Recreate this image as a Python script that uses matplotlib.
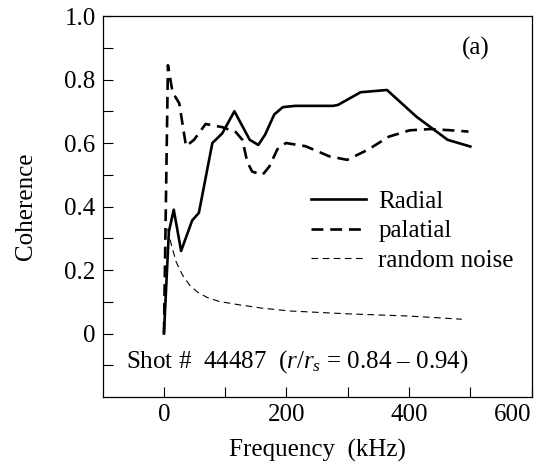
import matplotlib
matplotlib.use("Agg")
import matplotlib.pyplot as plt

plt.rcParams["font.family"] = ["Liberation Serif", "DejaVu Serif"]
plt.rcParams["mathtext.fontset"] = "custom"
plt.rcParams["mathtext.rm"] = "Liberation Serif"
plt.rcParams["mathtext.it"] = "Liberation Serif:italic"

# radial coherence (solid)
radial_f = [0, 8, 16, 28, 46, 57, 79, 95, 115, 140, 154, 165, 180, 194, 214, 276, 284, 321, 364, 412, 463, 500]
radial_c = [0.0, 0.32, 0.39, 0.26, 0.356, 0.38, 0.60, 0.63, 0.70, 0.61, 0.594, 0.626, 0.69, 0.713, 0.717, 0.717, 0.72, 0.76, 0.767, 0.683, 0.61, 0.589]

# palatial coherence (thick dashed)
pal_f = [0, 6.5, 14, 25, 36, 49, 68, 95, 117, 128, 136, 144, 161, 172, 185, 199, 231, 270, 299, 333, 367, 401, 435, 469, 497]
pal_c = [0.0, 0.845, 0.76, 0.725, 0.59, 0.61, 0.66, 0.65, 0.635, 0.61, 0.54, 0.51, 0.50, 0.526, 0.58, 0.60, 0.59, 0.558, 0.547, 0.579, 0.62, 0.64, 0.644, 0.64, 0.636]

# random noise level (thin dashed)
noise_f = [6, 12, 20, 30, 42, 55, 70, 90, 124, 160, 205, 300, 400, 486]
noise_c = [0.33, 0.28, 0.225, 0.185, 0.152, 0.13, 0.114, 0.101, 0.09, 0.08, 0.071, 0.062, 0.055, 0.045]

xticks = [0, 200, 400, 600]
yticks = [0, 0.2, 0.4, 0.6, 0.8, 1.0]
ytick_labels = ["0", "0.2", "0.4", "0.6", "0.8", "1.0"]

fs = 18

fig = plt.figure(figsize=(5.45, 4.70), dpi=100)
ax = fig.add_axes([0.1884, 0.1553, 0.787, 0.8106])

ax.plot(radial_f, radial_c, "k-", lw=1.9, label="Radial")
ax.plot(pal_f, pal_c, "k--", lw=1.9, dashes=(4.5, 2.6), label="palatial")
ax.plot(noise_f, noise_c, "k--", lw=0.8, dashes=(6, 4), label="random noise")

ax.set_xlim(-100, 600)
ax.set_ylim(-0.2, 1.0)
ax.set_xticks(xticks)
ax.set_xticks([100, 300, 500], minor=True)
ax.set_yticks(yticks)
ax.set_yticklabels(ytick_labels)
ax.set_yticks([-0.1, 0.1, 0.3, 0.5, 0.7, 0.9], minor=True)
ax.tick_params(which="both", direction="in", length=7.5, width=0.8, labelsize=fs, pad=5)
ax.get_xticklabels()[-1].set_ha("right")
for s in ax.spines.values():
    s.set_linewidth(0.9)

ax.set_xlabel("Frequency  (kHz)", fontsize=fs, labelpad=9)
ax.set_ylabel("Coherence", fontsize=fs, labelpad=20)

ax.text(0.87, 0.915, "(a)", transform=ax.transAxes, fontsize=fs, ha="center", va="center")
ax.text(-62, -0.088, "Shot #  44487  ($r$/$r_s$ = 0.84 \u2013 0.94)", fontsize=fs, ha="left", va="center")

ax.legend(loc="center left", bbox_to_anchor=(0.4855, 0.4357), frameon=False, fontsize=fs,
          handlelength=2.2, handletextpad=0.5, labelspacing=0.28, borderpad=0, borderaxespad=0)

fig.savefig("out.png", dpi=100)
